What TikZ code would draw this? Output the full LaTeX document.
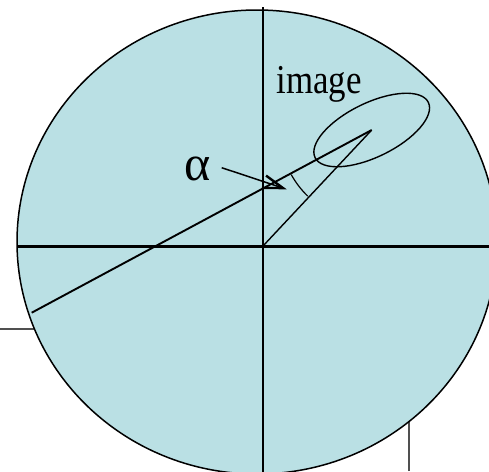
\documentclass[tikz,border=0pt]{standalone}
\usepackage{fontspec}
\setmainfont{Liberation Serif}
\usetikzlibrary{arrows.meta}
\definecolor{diskfill}{RGB}{186,224,228}
\definecolor{backedge}{RGB}{80,80,80}
\begin{document}
\begin{tikzpicture}[x=1pt,y=-1pt,
  backline/.style={draw=backedge, line width=1.6pt},
  diskshape/.style={fill=diskfill, draw=black, line width=1.5pt},
  vaxis/.style={draw=black, line width=2.2pt},
  haxis/.style={draw=black, line width=3pt},
  ray/.style={draw=black, line width=1.9pt},
  thinray/.style={draw=black, line width=1.4pt},
  anglearc/.style={draw=black, line width=1.2pt},
  pointer/.style={draw=black, line width=1.5pt, -{Straight Barb[length=20pt, width=13pt, line width=2.4pt]}},
  labeltext/.style={inner sep=0pt, text=black}]
\useasboundingbox (0,0) rectangle (489,471);
\clip (0,0) rectangle (489,471);
% partly hidden lines behind the disk
\coordinate (G1a) at (0,329);
\coordinate (G1b) at (40,329);
\coordinate (G2a) at (409,471);
\coordinate (G2b) at (409,410);
\draw[backline] (G1a) -- (G1b);
\draw[backline] (G2a) -- (G2b);
% disk
\coordinate (C) at (257,242);
\draw[diskshape] (C) ellipse [x radius=240pt, y radius=232pt];
% axes
\coordinate (O) at (263,246);
\coordinate (Vt) at (263,7);
\coordinate (Vb) at (263,475);
\coordinate (Hl) at (18,246);
\coordinate (Hr) at (492,246);
\draw[vaxis] (Vt) -- (Vb);
\draw[haxis] (Hl) -- (Hr);
% rays
\coordinate (T) at (371.7,130);
\coordinate (L) at (31.7,312.7);
\draw[ray] (L) -- (T);
\draw[thinray] (O) -- (T);
% angle arc at the tip
\draw[anglearc] (T) ++(209:92pt) arc[start angle=209, end angle=226, radius=92pt];
% image ellipse
\draw[thinray, shift={(T)}, rotate=26] (0,0) ellipse [x radius=63pt, y radius=27pt];
% labels
\node[labeltext, anchor=base, xscale=0.85, font=\fontsize{41}{41}\selectfont] (img) at (319,93.5) {image};
\node[labeltext, anchor=base, font=\fontsize{50}{50}\selectfont] (alpha) at (198,180) {α};
\coordinate (As) at (221.7,167.7);
\coordinate (Ae) at (286.7,189.3);
\draw[pointer] (As) -- (Ae);
\end{tikzpicture}
\end{document}
